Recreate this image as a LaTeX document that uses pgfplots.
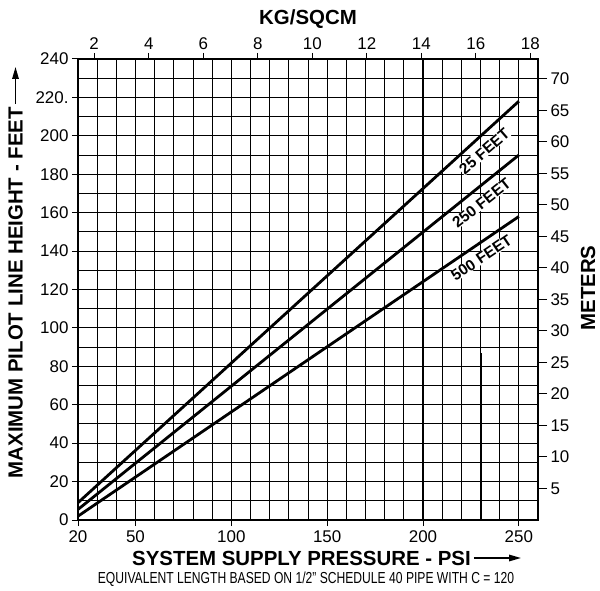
\documentclass[border=0pt]{standalone}
\usepackage{fontspec}
\setmainfont{Liberation Sans}
\usepackage{graphicx}
\usepackage{pgfplots}
\pgfplotsset{compat=1.18}
\usetikzlibrary{arrows.meta}

\newcommand\tickfont{\fontsize{17}{18}\selectfont}
\newcommand\ttlfont{\fontsize{20.5}{21}\selectfont\bfseries}
\newcommand\curvefont{\fontsize{15.5}{16}\selectfont\bfseries}

\pgfplotsset{
  chartbox/.style={
    scale only axis, width=460bp, height=461bp,
    xmin=20, xmax=260, ymin=0, ymax=240,
    /pgf/number format/assume math mode=true,
    ticklabel style={font=\tickfont},
    tick align=outside, major tick length=6bp, minor tick length=0pt,
    tick style={black, line width=1bp},
    axis line style={line width=1.3bp},
  },
  curve/.style={black, line width=2.8bp, mark=none},
}

\begin{document}
\begin{tikzpicture}
\useasboundingbox (-78bp,-71bp) rectangle (522bp,520bp);

% main axis: psi vs feet
\begin{axis}[chartbox,
  xtick={20,50,100,150,200,250},
  minor xtick={20,30,...,260},
  ytick={0,20,...,240},
  yticklabels={0,20,40,60,80,100,120,140,160,180,200,220.,240},
  minor ytick={0,10,...,240},
  grid=both,
  major grid style={black, line width=1bp},
  minor grid style={black, line width=1bp},
  xtick pos=bottom, ytick pos=left,
  xticklabel style={yshift=-1bp},
]
  % heavier grid lines in the original print
  \addplot[black, line width=2bp] coordinates {(200,0) (200,240)};
  \addplot[black, line width=2bp] coordinates {(230,0) (230,87)};

  % equivalent pipe lengths
  \addplot[curve] coordinates {(20,9) (250,218)};
  \addplot[curve] coordinates {(20,5.5) (250,190)};
  \addplot[curve] coordinates {(20,2) (250,158)};

  \node[font=\curvefont, rotate=41, fill=white, inner sep=0.3pt] at (axis cs:232,192) {25 FEET};
  \node[font=\curvefont, rotate=38.5, fill=white, inner sep=0.3pt] at (axis cs:230.5,165) {250 FEET};
  \node[font=\curvefont, rotate=34, fill=white, inner sep=0.3pt] at (axis cs:230.5,136.5) {500 FEET};
\end{axis}

% top scale: kg/sqcm
\begin{axis}[chartbox,
  xmin=1.40614, xmax=18.2799,
  axis x line*=top, hide y axis,
  xtick={2,4,...,18},
]
\end{axis}

% right scale: meters
\begin{axis}[chartbox,
  ymin=0, ymax=73.152,
  axis y line*=right, hide x axis,
  ytick={5,10,...,70},
  major tick length=9bp,
]
\end{axis}

\node[rotate=90, anchor=east, font=\ttlfont, inner sep=0pt] (lt) at (-62.5bp,413bp) {MAXIMUM PILOT LINE HEIGHT - FEET};
\draw[line width=1.5bp, -{Triangle[length=12bp,width=6.5bp]}] (lt.east) ++(0,3bp) -- (-62.5bp,453bp);

\node[anchor=west, font=\ttlfont, inner sep=0pt] (bt) at (54bp,-38bp) {SYSTEM SUPPLY PRESSURE - PSI};
\draw[line width=1.5bp, -{Triangle[length=12bp,width=6.5bp]}] (bt.east) ++(3bp,0) -- (443bp,-38bp);

\node[font=\fontsize{16}{17}\selectfont, inner sep=0pt] at (228bp,-59bp)
  {\scalebox{0.76}[1]{EQUIVALENT LENGTH BASED ON 1/2" SCHEDULE 40 PIPE WITH C = 120}};

\node[font=\ttlfont, inner sep=0pt] at (230bp,501bp) {KG/SQCM};
\node[font=\ttlfont, rotate=90, inner sep=0pt] at (510bp,232bp) {METERS};
\end{tikzpicture}
\end{document}
